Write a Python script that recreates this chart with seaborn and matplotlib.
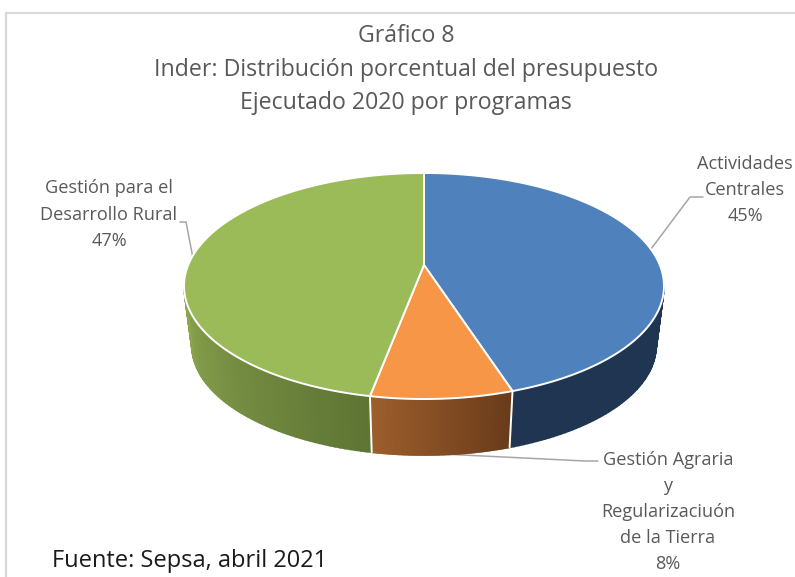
import numpy as np
import matplotlib
matplotlib.use("Agg")
import matplotlib.pyplot as plt
from matplotlib.patches import Rectangle
import seaborn as sns

programas = ["Actividades\nCentrales", "Gestión Agraria\ny\nRegularizaciuón\nde la Tierra", "Gestión para el\nDesarrollo Rural"]
porcentajes = [45, 8, 47]

titulo = "Gráfico 8\nInder: Distribución porcentual del presupuesto\nEjecutado 2020 por programas"
fuente = "Fuente: Sepsa, abril 2021"

colores_top = ["#4F81BD", "#F79646", "#9BBB59"]
# wall colours, going clockwise (right to left along the front)
colores_lado = [("#1F3552", "#1F3552"), ("#693B1A", "#9C5E2C"), ("#5E7534", "#8CA64F")]

sns.set_theme(style="white")
plt.rcParams["font.family"] = ["Open Sans", "DejaVu Sans"]


def rim(theta, cy, esc=1.0):
    # circle seen in perspective, theta clockwise from the back of the pie
    w = 1 + 0.186 * np.cos(theta)
    x = 424 + esc * 235.8 * np.sin(theta) / w
    y = cy - esc * 109.1 * np.cos(theta) / w
    return x, y


fig = plt.figure(figsize=(7.95, 5.77), dpi=100)
ax = fig.add_axes([0, 0, 1, 1])
ax.set_xlim(0, 795)
ax.set_ylim(577, 0)
ax.axis("off")

ax.add_patch(Rectangle((5.5, 13), 900, 700, fc="white", ec="#D9D9D9", lw=1.6))

limites = np.deg2rad(np.cumsum([0] + porcentajes) * 3.6)
vis_ini, vis_fin = np.pi - np.arccos(0.186), np.pi + np.arccos(0.186)

# side wall first, split in small strips for the gradient
for i in range(3):
    ini, fin = max(limites[i], vis_ini), min(limites[i + 1], vis_fin)
    n = 60
    tonos = sns.blend_palette(colores_lado[i], n)
    ts = np.linspace(ini, fin, n + 1)
    for j in range(n):
        t = np.array([ts[j], ts[j + 1]])
        x1, y1 = rim(t, 265)
        x2, y2 = rim(t, 325.4, 0.967)
        ax.fill(np.r_[x1, x2[::-1]], np.r_[y1, y2[::-1]], color=tonos[j], lw=1.2, zorder=2)

# seams on the wall
for t in limites[1:3]:
    x1, y1 = rim(t, 265)
    x2, y2 = rim(t, 325.4, 0.967)
    ax.plot([x1, x2], [y1, y2], color="white", lw=1.4, zorder=3)

# top face
for i in range(3):
    t = np.linspace(limites[i], limites[i + 1], 200)
    x, y = rim(t, 265)
    ax.fill(np.r_[424, x], np.r_[265, y], fc=colores_top[i], ec="white", lw=1.4, joinstyle="round", zorder=4)

# leader lines
gris = "#A6A6A6"
ax.plot([651, 690, 703], [249, 197, 197], color=gris, lw=1.1, zorder=1)
ax.plot([442, 585, 598], [454, 461, 461], color=gris, lw=1.1, zorder=1)
ax.plot([193, 186, 180], [258, 222, 222], color=gris, lw=1.1, zorder=1)

txt = "#595959"
ax.text(406, 69.5, titulo, ha="center", va="center", fontsize=16.7, color=txt, linespacing=1.52)

etiquetas = [f"{p}\n{v}%" for p, v in zip(programas, porcentajes)]
pos = [(745, 190), (668, 512), (109, 214.5)]
for e, (x, y) in zip(etiquetas, pos):
    ax.text(x, y, e, ha="center", va="center", fontsize=13.1, color=txt, linespacing=1.58, zorder=5)

ax.text(52, 561, fuente, ha="left", va="center", fontsize=17, color="#1A1A1A")

fig.savefig("out.png", dpi=100)
